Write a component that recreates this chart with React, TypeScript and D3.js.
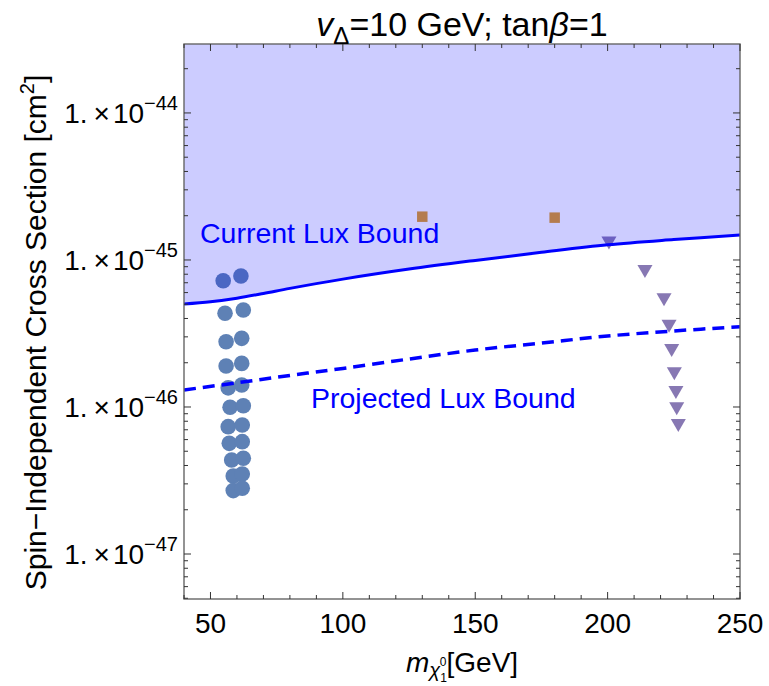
import React from "react";
import * as d3 from "d3";

const W = 769;
const H = 686;
const PLOT = { left: 184, right: 740, top: 44, bottom: 599 };

// Axis ranges
const xDomain: [number, number] = [40, 250];
const yDomain: [number, number] = [Math.pow(10, -47.306), Math.pow(10, -43.531)];
const xMajorTicks = [50, 100, 150, 200, 250];
const yMajorExponents = [-44, -45, -46, -47];

// Scan points (mass in GeV, cross section in cm^2)
const circleMass = [54.8, 61.5, 55.5, 62.4, 55.9, 61.8, 55.9, 61.8, 56.7, 61.8, 57.4, 62.4, 56.7, 62.0, 57.1, 62.0, 58.0, 62.4, 58.6, 62.0, 58.6, 62.0];
const circleSigma = [7.23e-46, 7.78e-46, 4.34e-46, 4.57e-46, 2.78e-46, 2.93e-46, 1.9e-46, 1.98e-46, 1.35e-46, 1.41e-46, 9.95e-47, 1.02e-46, 7.35e-47, 7.55e-47, 5.66e-47, 5.81e-47, 4.36e-47, 4.48e-47, 3.39e-47, 3.5e-47, 2.7e-47, 2.8e-47];

const squareMass = [130, 180];
const squareSigma = [1.97e-45, 1.94e-45];

const triangleMass = [200.5, 214.1, 221.3, 223.2, 224.2, 225.2, 225.8, 226.1, 226.7];
const triangleSigma = [1.35e-45, 8.65e-46, 5.55e-46, 3.67e-46, 2.51e-46, 1.74e-46, 1.3e-46, 1.005e-46, 7.74e-47];

// LUX exclusion curves
const luxCurrentMass = [40, 50, 60, 70, 80, 100, 125, 150, 175, 200, 225, 250];
const luxCurrentSigma = [5.02e-46, 5.2e-46, 5.5e-46, 5.92e-46, 6.41e-46, 7.41e-46, 8.67e-46, 9.93e-46, 1.127e-45, 1.268e-45, 1.377e-45, 1.479e-45];

const luxProjectedMass = [40, 60, 80, 100, 125, 150, 175, 200, 225, 250];
const luxProjectedSigma = [1.306e-46, 1.46e-46, 1.64e-46, 1.83e-46, 2.12e-46, 2.44e-46, 2.72e-46, 3.04e-46, 3.29e-46, 3.52e-46];

const FONT = "'Liberation Sans', Arial, Helvetica, sans-serif";
const BLUE = "#0000ff";
const C1 = "#5E81B5";
const C2 = "#E19C24";
const C5 = "#8778B3";

export default function App() {
  const x = d3.scaleLinear().domain(xDomain).range([PLOT.left, PLOT.right]);
  const y = d3.scaleLog().domain(yDomain).range([PLOT.bottom, PLOT.top]);

  const current = luxCurrentMass.map((m, i) => [m, luxCurrentSigma[i]] as [number, number]);
  const projected = luxProjectedMass.map((m, i) => [m, luxProjectedSigma[i]] as [number, number]);

  const line = d3
    .line<[number, number]>()
    .x((d) => x(d[0]))
    .y((d) => y(d[1]))
    .curve(d3.curveCatmullRom.alpha(0.5));

  const area = d3
    .area<[number, number]>()
    .x((d) => x(d[0]))
    .y0(PLOT.top)
    .y1((d) => y(d[1]))
    .curve(d3.curveCatmullRom.alpha(0.5));

  const triPath = d3.symbol(d3.symbolTriangle, 98)() as string;
  const sqPath = d3.symbol(d3.symbolSquare, 110)() as string;

  // ticks
  const xMinor = d3.range(40, 251, 10).filter((v) => !xMajorTicks.includes(v));
  const yMinor: number[] = [];
  for (let e = -48; e <= -44; e++) {
    for (let k = 2; k <= 9; k++) {
      const v = k * Math.pow(10, e);
      if (v >= yDomain[0] && v <= yDomain[1]) yMinor.push(v);
    }
  }
  const yMajor = yMajorExponents.map((e) => Math.pow(10, e));

  const tickColor = "#333";
  const majLen = 7;
  const minLen = 4;

  return (
    <svg
      width={W}
      height={H}
      style={{ position: "absolute", left: 0, top: 0, background: "#fff" }}
      fontFamily={FONT}
    >
      <defs>
        <clipPath id="plotClip">
          <rect x={PLOT.left} y={PLOT.top} width={PLOT.right - PLOT.left} height={PLOT.bottom - PLOT.top} />
        </clipPath>
      </defs>

      <g clipPath="url(#plotClip)">
        {/* scan points */}
        {circleMass.map((m, i) => (
          <circle key={"c" + i} cx={x(m)} cy={y(circleSigma[i])} r={7.8} fill={C1} />
        ))}
        {squareMass.map((m, i) => (
          <path key={"s" + i} d={sqPath} transform={`translate(${x(m)},${y(squareSigma[i])})`} fill={C2} />
        ))}
        {triangleMass.map((m, i) => (
          <path
            key={"t" + i}
            d={triPath}
            transform={`translate(${x(m)},${y(triangleSigma[i])}) rotate(180)`}
            fill={C5}
          />
        ))}

        {/* excluded region above the current bound */}
        <path d={area(current) as string} fill={BLUE} fillOpacity={0.2} />

        {/* bounds */}
        <path d={line(current) as string} fill="none" stroke={BLUE} strokeWidth={3} />
        <path
          d={line(projected) as string}
          fill="none"
          stroke={BLUE}
          strokeWidth={3.5}
          strokeDasharray="12,7"
        />
      </g>

      {/* frame */}
      <rect
        x={PLOT.left}
        y={PLOT.top}
        width={PLOT.right - PLOT.left}
        height={PLOT.bottom - PLOT.top}
        fill="none"
        stroke="#666"
        strokeWidth={1.4}
      />

      {/* x ticks on bottom and top */}
      {xMajorTicks.map((v) => (
        <g key={"xM" + v}>
          <line x1={x(v)} x2={x(v)} y1={PLOT.bottom} y2={PLOT.bottom - majLen} stroke={tickColor} strokeWidth={1} />
          <line x1={x(v)} x2={x(v)} y1={PLOT.top} y2={PLOT.top + majLen} stroke={tickColor} strokeWidth={1} />
        </g>
      ))}
      {xMinor.map((v) => (
        <g key={"xm" + v}>
          <line x1={x(v)} x2={x(v)} y1={PLOT.bottom} y2={PLOT.bottom - minLen} stroke={tickColor} strokeWidth={1} />
          <line x1={x(v)} x2={x(v)} y1={PLOT.top} y2={PLOT.top + minLen} stroke={tickColor} strokeWidth={1} />
        </g>
      ))}

      {/* y ticks on left and right */}
      {yMajor.map((v, i) => (
        <g key={"yM" + i}>
          <line x1={PLOT.left} x2={PLOT.left + majLen} y1={y(v)} y2={y(v)} stroke={tickColor} strokeWidth={1} />
          <line x1={PLOT.right} x2={PLOT.right - majLen} y1={y(v)} y2={y(v)} stroke={tickColor} strokeWidth={1} />
        </g>
      ))}
      {yMinor.map((v, i) => (
        <g key={"ym" + i}>
          <line x1={PLOT.left} x2={PLOT.left + minLen} y1={y(v)} y2={y(v)} stroke={tickColor} strokeWidth={1} />
          <line x1={PLOT.right} x2={PLOT.right - minLen} y1={y(v)} y2={y(v)} stroke={tickColor} strokeWidth={1} />
        </g>
      ))}

      {/* x tick labels */}
      {xMajorTicks.map((v) => (
        <text key={"xl" + v} x={x(v)} y={633} textAnchor="middle" fontSize={28} fill="#000">
          {v}
        </text>
      ))}

      {/* y tick labels */}
      {yMajorExponents.map((e) => (
        <text key={"yl" + e} x={178} y={y(Math.pow(10, e)) + 10} textAnchor="end" fontSize={28} fill="#000">
          <tspan>1.</tspan>
          <tspan dx={6}>×</tspan>
          <tspan dx={3}>10</tspan>
          <tspan fontSize={20} dy={-13}>{"\u2212" + Math.abs(e)}</tspan>
        </text>
      ))}

      {/* title */}
      <text x={(PLOT.left + PLOT.right) / 2} y={36} textAnchor="middle" fontSize={34} fill="#000">
        <tspan fontStyle="italic">v</tspan>
        <tspan fontSize={24} dy={8}>Δ</tspan>
        <tspan dy={-8}>=10 GeV; tan</tspan>
        <tspan fontStyle="italic">β</tspan>
        <tspan>=1</tspan>
      </text>

      {/* x axis title */}
      <text x={(PLOT.left + PLOT.right) / 2} y={672} textAnchor="middle" fontSize={28} fill="#000">
        <tspan fontStyle="italic">m</tspan>
        <tspan fontStyle="italic" fontSize={20} dy={5}>χ</tspan>
        <tspan fontSize={12} dy={5}>1</tspan>
        <tspan fontSize={12} dx={-7} dy={-16}>0</tspan>
        <tspan dy={6}>[GeV]</tspan>
      </text>

      {/* y axis title */}
      <text
        transform={`translate(46,${(PLOT.top + PLOT.bottom) / 2 + 11}) rotate(-90)`}
        textAnchor="middle"
        fontSize={30}
        fill="#000"
      >
        <tspan>Spin−Independent Cross Section [cm</tspan>
        <tspan fontSize={20} dy={-12}>2</tspan>
        <tspan dy={12}>]</tspan>
      </text>

      {/* curve labels */}
      <text x={200} y={243} fontSize={28.5} fill={BLUE}>
        Current Lux Bound
      </text>
      <text x={311} y={408} fontSize={28.5} fill={BLUE}>
        Projected Lux Bound
      </text>
    </svg>
  );
}
